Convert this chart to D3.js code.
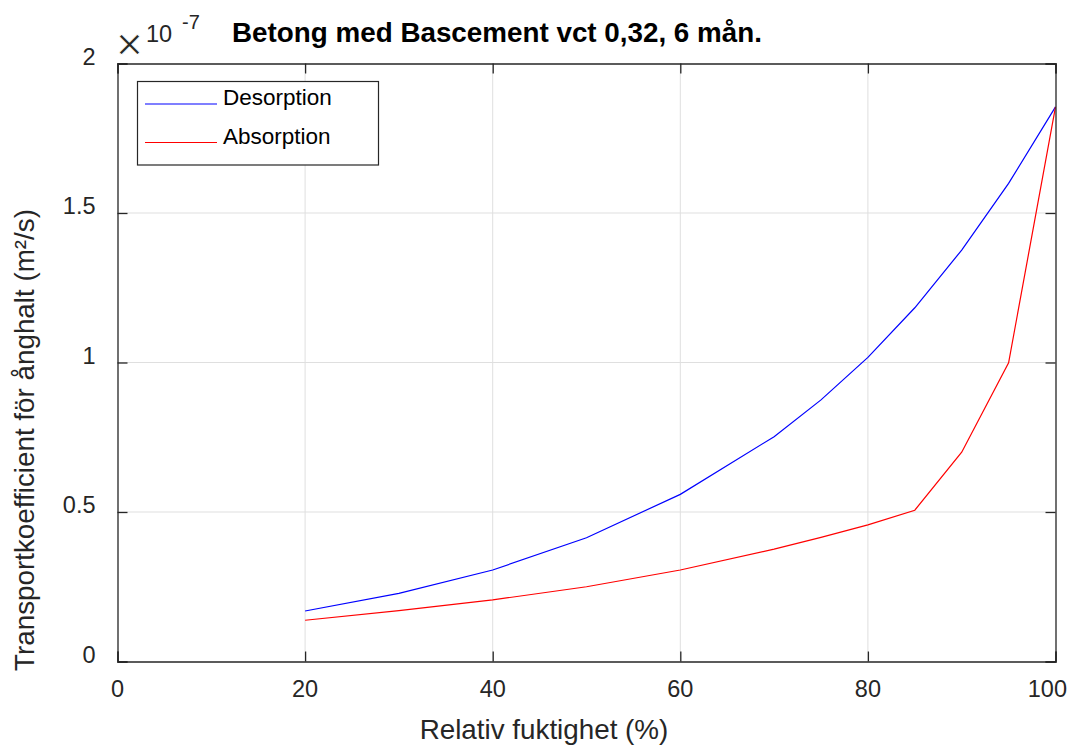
<!DOCTYPE html>
<html>
<head>
<meta charset="utf-8">
<script src="https://cdn.jsdelivr.net/npm/d3@7"></script>
<style>
  body { margin: 0; background: #fff; }
  svg { font-family: "Liberation Sans", Arial, Helvetica, sans-serif; }
  .tick-label { font-size: 23.5px; fill: #262626; }
  .axis-label { font-size: 27.8px; fill: #262626; }
  .chart-title { font-size: 27.8px; font-weight: bold; fill: #000; }
  .legend-text { font-size: 22.5px; fill: #000; }
</style>
</head>
<body>
<svg id="chart" width="1072" height="749"></svg>
<script>
// DATA
const rh = [20, 30, 40, 50, 60, 70, 75, 80, 85, 90, 95, 100];
const desorption = [0.169, 0.228, 0.306, 0.414, 0.559, 0.752, 0.875, 1.017, 1.183, 1.376, 1.599, 1.855];
const absorption = [0.138, 0.170, 0.206, 0.250, 0.306, 0.376, 0.415, 0.457, 0.506, 0.700, 0.999, 1.855];
const xTicks = [0, 20, 40, 60, 80, 100];
const yTicks = [0, 0.5, 1, 1.5, 2];
const seriesNames = ["Desorption", "Absorption"];
const seriesColors = ["#0000ff", "#ff0000"];

const svg = d3.select("#chart");
const margin = { top: 63.5, right: 16.5, bottom: 87.5, left: 117.5 };
const width = +svg.attr("width");
const height = +svg.attr("height");
const innerWidth = width - margin.left - margin.right;
const innerHeight = height - margin.top - margin.bottom;

const g = svg.append("g")
  .attr("transform", `translate(${margin.left},${margin.top})`);

// scales
const x = d3.scaleLinear().domain([0, 100]).range([0, innerWidth]);
const y = d3.scaleLinear().domain([0, 2]).range([innerHeight, 0]);

// grid
g.append("g").selectAll("line")
  .data(xTicks.slice(1, -1))
  .join("line")
  .attr("x1", d => x(d)).attr("x2", d => x(d))
  .attr("y1", 0).attr("y2", innerHeight)
  .attr("stroke", "#dfdfdf").attr("stroke-width", 1);

g.append("g").selectAll("line")
  .data(yTicks.slice(1, -1))
  .join("line")
  .attr("x1", 0).attr("x2", innerWidth)
  .attr("y1", d => y(d)).attr("y2", d => y(d))
  .attr("stroke", "#dfdfdf").attr("stroke-width", 1);

// lines
const line = d3.line()
  .x((d, i) => x(rh[i]))
  .y(d => y(d));

[desorption, absorption].forEach((vals, k) => {
  g.append("path")
    .datum(vals)
    .attr("fill", "none")
    .attr("stroke", seriesColors[k])
    .attr("stroke-width", 1.2)
    .attr("d", line);
});

// axes box with inward ticks (all four sides)
const tickLen = 10;
const xAxisB = d3.axisBottom(x).tickValues(xTicks).tickSize(-tickLen).tickFormat("");
const xAxisT = d3.axisTop(x).tickValues(xTicks).tickSize(-tickLen).tickFormat("");
const yAxisL = d3.axisLeft(y).tickValues(yTicks).tickSize(-tickLen).tickFormat("");
const yAxisR = d3.axisRight(y).tickValues(yTicks).tickSize(-tickLen).tickFormat("");

g.append("g").attr("transform", `translate(0,${innerHeight})`).call(xAxisB);
g.append("g").call(xAxisT);
g.append("g").call(yAxisL);
g.append("g").attr("transform", `translate(${innerWidth},0)`).call(yAxisR);

g.selectAll(".domain").attr("stroke", "#262626").attr("stroke-width", 1.3);
g.selectAll(".tick line").attr("stroke", "#262626").attr("stroke-width", 1.3);

// tick labels
const xLabels = g.append("g").selectAll("text")
  .data(xTicks)
  .join("text")
  .attr("class", "tick-label")
  .attr("x", d => x(d))
  .attr("y", innerHeight + 35)
  .attr("text-anchor", "middle")
  .text(d => d);

// keep the last label inside the figure, like MATLAB does
xLabels.each(function () {
  const b = this.getBBox();
  const over = margin.left + b.x + b.width - (width - 5);
  if (over > 0) d3.select(this).attr("x", +d3.select(this).attr("x") - over);
});

g.append("g").selectAll("text")
  .data(yTicks)
  .join("text")
  .attr("class", "tick-label")
  .attr("x", -22)
  .attr("y", d => y(d) + 1)
  .attr("text-anchor", "end")
  .text(d => d);

// exponent
svg.append("text")
  .attr("x", 116)
  .attr("y", 60)
  .style("font-size", "46px")
  .attr("fill", "#262626")
  .attr("stroke", "#fff")
  .attr("stroke-width", 0.8)
  .text("\u00d7");

const expo = svg.append("text")
  .attr("class", "tick-label")
  .attr("x", 146)
  .attr("y", 42);
expo.append("tspan").text("10");
expo.append("tspan").attr("x", 182).attr("dy", -13).style("font-size", "20px").text("-7");

// title
svg.append("text")
  .attr("class", "chart-title")
  .attr("x", 497)
  .attr("y", 42)
  .attr("text-anchor", "middle")
  .text("Betong med Bascement vct 0,32, 6 mån.");

// axis labels
svg.append("text")
  .attr("class", "axis-label")
  .attr("x", 544)
  .attr("y", 739)
  .attr("text-anchor", "middle")
  .text("Relativ fuktighet (%)");

svg.append("text")
  .attr("class", "axis-label")
  .attr("transform", "translate(34,440) rotate(-90)")
  .attr("text-anchor", "middle")
  .text("Transportkoefficient för ånghalt (m²/s)");

// legend
const legend = svg.append("g");
legend.append("rect")
  .attr("x", 137.5).attr("y", 81.5)
  .attr("width", 241).attr("height", 83.5)
  .attr("fill", "#fff")
  .attr("stroke", "#262626").attr("stroke-width", 1.2);

const legendY = [104, 142.5];
seriesNames.forEach((name, k) => {
  legend.append("line")
    .attr("x1", 145).attr("x2", 217)
    .attr("y1", legendY[k]).attr("y2", legendY[k])
    .attr("stroke", seriesColors[k]).attr("stroke-width", 1.2);
  legend.append("text")
    .attr("class", "legend-text")
    .attr("x", 223)
    .attr("y", legendY[k] + 1)
    .text(name);
});
</script>
</body>
</html>
